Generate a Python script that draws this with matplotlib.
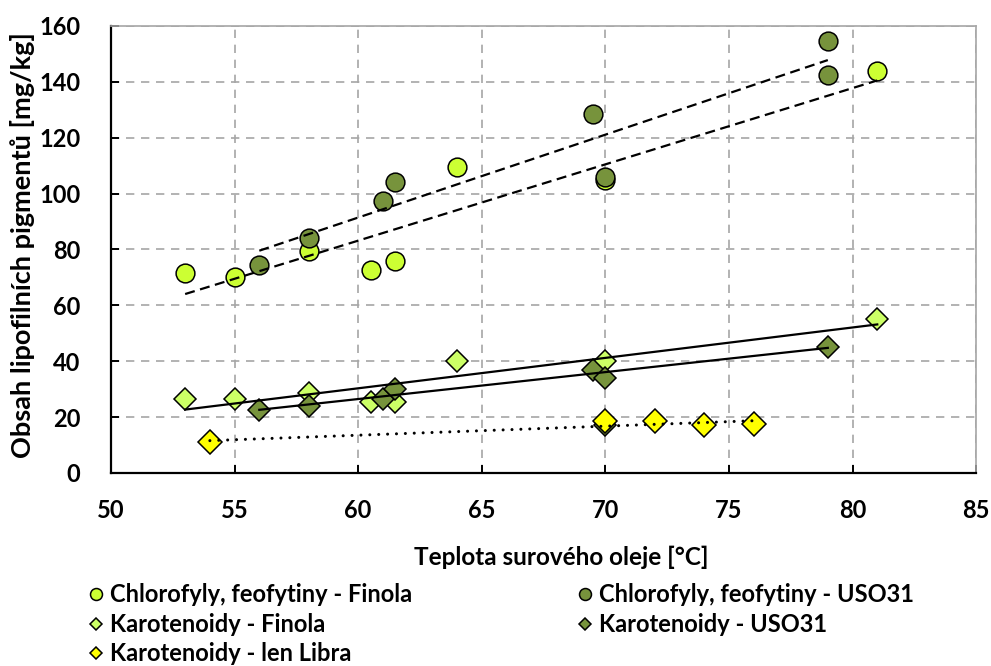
import numpy as np
import matplotlib
matplotlib.use("Agg")
from matplotlib import pyplot as plt

plt.rcParams['font.family'] = ['Lato', 'DejaVu Sans']
plt.rcParams['font.weight'] = 'bold'

# Chlorofyly, feofytiny
chl_fin_x = [53, 55, 58, 60.5, 61.5, 64, 70, 81]
chl_fin_y = [71.5, 70, 79.5, 72.5, 76, 109.5, 105, 144]
chl_uso_x = [56, 58, 61, 61.5, 69.5, 70, 79, 79]
chl_uso_y = [74.5, 84, 97.5, 104, 128.5, 106, 142.5, 154.5]

# Karotenoidy
kar_fin_x = [53, 55, 58, 60.5, 61.5, 64, 70, 81]
kar_fin_y = [26.5, 26.5, 28.5, 25.5, 25.5, 40, 40, 55]
kar_uso_x = [56, 58, 61, 61.5, 69.5, 70, 79]
kar_uso_y = [22.5, 24, 26.5, 30, 37, 34, 45]
kar_uso_extra_x = [70]
kar_uso_extra_y = [17]
kar_lib_x = [54, 70, 72, 74, 76]
kar_lib_y = [11, 18.5, 18.5, 17, 17.5]

col_fin = '#CCFF33'
col_fin_k = '#CCFF66'
col_uso = '#77933C'
col_lib = '#FFFF00'

fs = 17.5

fig = plt.figure(figsize=(9.91, 6.66), dpi=100)
ax = fig.add_axes([0.112, 0.2898, 0.873, 0.6713])

def trend(x, y, ls, lw, dashes=None):
    k, q = np.polyfit(x, y, 1)
    xs = np.array([min(x), max(x)])
    ln, = ax.plot(xs, k * xs + q, color='black', ls=ls, lw=lw, zorder=5,
                  dash_capstyle='round' if ls == ':' else 'butt')
    if dashes is not None:
        ln.set_dashes(dashes)

mk = dict(mec='black', mew=1.1, ls='none')
ax.plot(chl_fin_x, chl_fin_y, 'o', ms=13.5, mfc=col_fin, zorder=3, **mk)
ax.plot(chl_uso_x, chl_uso_y, 'o', ms=13.5, mfc=col_uso, zorder=3, **mk)
ax.plot(kar_fin_x, kar_fin_y, 'D', ms=11, mfc=col_fin_k, zorder=3, **mk)
ax.plot(kar_uso_x, kar_uso_y, 'D', ms=11, mfc=col_uso, zorder=3, **mk)
ax.plot(kar_uso_extra_x, kar_uso_extra_y, 'D', ms=11, mfc=col_uso, zorder=3, **mk)
ax.plot(kar_lib_x, kar_lib_y, 'D', ms=12, mfc=col_lib, zorder=4, **mk)

trend(chl_fin_x, chl_fin_y, '--', 1.6, (4.5, 2.5))
trend(chl_uso_x, chl_uso_y, '--', 1.6, (4.5, 2.5))
trend(kar_fin_x, kar_fin_y, '-', 1.6)
trend(kar_uso_x, kar_uso_y, '-', 1.6)
trend(kar_lib_x, kar_lib_y, ':', 2.2, (0.01, 2.9))

ax.set_xlim(50, 85)
ax.set_ylim(0, 160)
ax.set_xticks(np.arange(50, 86, 5))
ax.set_yticks(np.arange(0, 161, 20))
ax.grid(True, color='#A6A6A6', ls=(0, (5, 4)), lw=1.2)
ax.set_axisbelow(True)
for s in ['top', 'right']:
    ax.spines[s].set_color('#A6A6A6')
    ax.spines[s].set_linewidth(1.2)
for s in ['left', 'bottom']:
    ax.spines[s].set_linewidth(1.6)
ax.tick_params(direction='in', length=6, width=1.4, labelsize=17)
ax.tick_params(axis='y', pad=22)
ax.tick_params(axis='x', pad=19)

ax.set_xlabel('Teplota surového oleje [°C]', fontsize=fs, fontweight='bold')
ax.xaxis.set_label_coords(0.521, -0.163)
ax.set_ylabel('Obsah lipofilních pigmentů [mg/kg]', fontsize=19.5, fontweight='bold')
ax.yaxis.set_label_coords(-0.088, 0.51)

h = [
    plt.Line2D([], [], marker='o', ms=8.6, mfc=col_fin, **mk),
    plt.Line2D([], [], marker='D', ms=5.8, mfc=col_fin_k, **mk),
    plt.Line2D([], [], marker='D', ms=5.8, mfc=col_lib, **mk),
    plt.Line2D([], [], marker='o', ms=8.6, mfc=col_uso, **mk),
    plt.Line2D([], [], marker='D', ms=5.8, mfc=col_uso, **mk),
]
labels = ['Chlorofyly, feofytiny - Finola', 'Karotenoidy - Finola',
          'Karotenoidy - len Libra', 'Chlorofyly, feofytiny - USO31',
          'Karotenoidy - USO31']
fig.legend(h, labels, ncol=2, loc='upper left', bbox_to_anchor=(0.0868, 0.124),
           frameon=False, fontsize=17, handlelength=0.82, handletextpad=0.2,
           columnspacing=6.9, labelspacing=0.27, borderaxespad=0, borderpad=0)

fig.savefig('out.png', dpi=100)
